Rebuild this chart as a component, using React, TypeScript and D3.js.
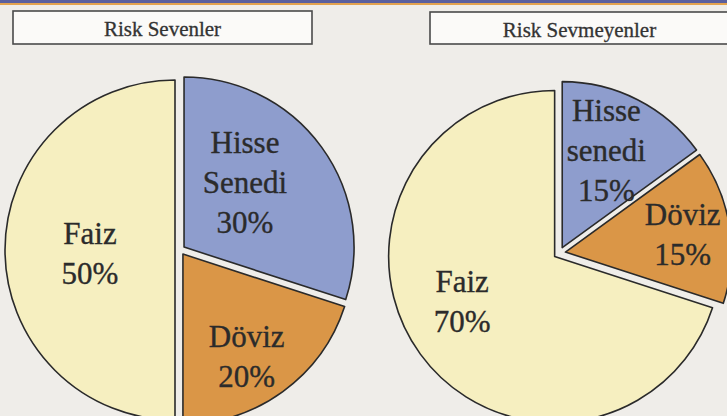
import React from "react";
import * as d3 from "d3";

// ---- data ----
const categories = ["Hisse Senedi", "Döviz", "Faiz"];
const chartTitles = ["Risk Sevenler", "Risk Sevmeyenler"];
const riskSevenlerValues = [30, 20, 50];
const riskSevmeyenlerValues = [15, 15, 70];
const riskSevenlerLabels = [["Hisse", "Senedi", "30%"], ["Döviz", "20%"], ["Faiz", "50%"]];
const riskSevmeyenlerLabels = [["Hisse", "senedi", "15%"], ["Döviz", "15%"], ["Faiz", "70%"]];

// ---- layout / style ----
const W = 727;
const H = 416;
const sliceColors = ["#8e9dcd", "#da9647", "#f6efc0"];
const pies = [
  {
    values: riskSevenlerValues,
    labels: riskSevenlerLabels,
    title: chartTitles[0],
    cx: 180, cy: 250, r: 170, explode: 5,
    box: { x: 13, y: 11, w: 299, h: 33 },
    // label placement: [angle in degrees (clockwise from top), fraction of radius]
    labelPos: [[44, 0.55], [148, 0.74], [267.5, 0.53]],
  },
  {
    values: riskSevmeyenlerValues,
    labels: riskSevmeyenlerLabels,
    title: chartTitles[1],
    cx: 559.5, cy: 253, r: 166, explode: 6,
    box: { x: 430, y: 12, w: 299, h: 32 },
    labelPos: [[24.7, 0.675], [81.6, 0.75], [243.5, 0.655]],
  },
];

const FONT = "'Liberation Serif', 'Times New Roman', serif";

function Pie({ cfg }: { cfg: any }) {
  const pieGen = d3.pie<number>().sort(null).startAngle(0).endAngle(2 * Math.PI);
  const arcs = pieGen(cfg.values);
  const arcGen = d3.arc<d3.PieArcDatum<number>>().innerRadius(0).outerRadius(cfg.r);
  const lineH = 40;
  return (
    <g>
      <rect
        x={cfg.box.x}
        y={cfg.box.y}
        width={cfg.box.w}
        height={cfg.box.h}
        fill="#fbfaf8"
        stroke="#4a4a4a"
        strokeWidth={1.6}
      />
      <text
        x={cfg.box.x + cfg.box.w / 2}
        y={cfg.box.y + 25}
        textAnchor="middle"
        fontFamily={FONT}
        fontSize={21}
        fill="#333"
        stroke="#333"
        strokeWidth={0.3}
      >
        {cfg.title}
      </text>
      {arcs.map((a, i) => {
        const mid = (a.startAngle + a.endAngle) / 2;
        const dx = Math.sin(mid) * cfg.explode;
        const dy = -Math.cos(mid) * cfg.explode;
        return (
          <path
            key={categories[i]}
            d={arcGen(a) || ""}
            transform={`translate(${cfg.cx + dx},${cfg.cy + dy})`}
            fill={sliceColors[i]}
            stroke="#2a2a2a"
            strokeWidth={1.6}
            strokeLinejoin="round"
          />
        );
      })}
      {arcs.map((a, i) => {
        const [angDeg, frac] = cfg.labelPos[i];
        const ang = (angDeg * Math.PI) / 180;
        const lx = cfg.cx + Math.sin(ang) * frac * cfg.r;
        const ly = cfg.cy - Math.cos(ang) * frac * cfg.r;
        const lines: string[] = cfg.labels[i];
        const first = ly - ((lines.length - 1) * lineH) / 2 + 10;
        return (
          <text
            key={"l" + i}
            textAnchor="middle"
            fontFamily={FONT}
            fontSize={31}
            fill="#2b2b2b"
            stroke="#2b2b2b"
            strokeWidth={0.35}
          >
            {lines.map((t, j) => (
              <tspan key={j} x={lx} y={first + j * lineH}>
                {t}
              </tspan>
            ))}
          </text>
        );
      })}
    </g>
  );
}

export default function App() {
  return (
    <div style={{ position: "fixed", left: 0, top: 0, width: W, height: H }}>
      <svg width={W} height={H} style={{ display: "block" }}>
        <rect x={0} y={0} width={W} height={H} fill="#efede9" />
        <rect x={0} y={0} width={W} height={3} fill="#5a5f9e" />
        <rect x={0} y={3} width={W} height={2} fill="#e3a24e" />
        {pies.map((p, i) => (
          <Pie key={i} cfg={p} />
        ))}
      </svg>
    </div>
  );
}
